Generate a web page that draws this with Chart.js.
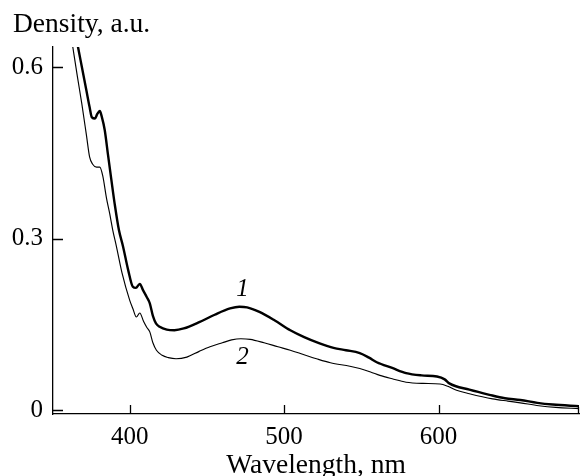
<!DOCTYPE html>
<html>
<head>
<meta charset="utf-8">
<title>Density spectrum</title>
<script src="https://cdn.jsdelivr.net/npm/chart.js"></script>
<style>
body { margin: 0; background: #fff; }
.wrap { width: 580px; height: 476px; position: relative; }
</style>
</head>
<body>
<div class="wrap"><canvas id="spectrum"></canvas></div>
<script>
// curve 1 (thick)
var wl1 = [358, 362, 366.5, 369, 372, 374, 375.5, 377.5, 379, 380.6,
    382, 383.8, 386, 388, 390.3, 393, 395.7, 399, 402, 404,
    406.5, 408.6, 411, 413, 415, 417, 419.4, 424, 429, 435,
    445, 455, 465, 471, 476, 484, 494, 504, 513, 523,
    532, 540, 549, 555, 560, 570, 579, 589, 599, 604,
    607, 620, 633, 643, 653, 664, 674, 691];
var dens1 = [0.755, 0.70, 0.635, 0.60, 0.558, 0.53, 0.512, 0.510, 0.518, 0.523,
    0.512, 0.490, 0.445, 0.405, 0.36, 0.315, 0.286, 0.245, 0.216, 0.214,
    0.221, 0.210, 0.198, 0.187, 0.165, 0.152, 0.146, 0.141, 0.140, 0.143,
    0.154, 0.167, 0.178, 0.181, 0.180, 0.172, 0.157, 0.140, 0.128, 0.117,
    0.109, 0.105, 0.100, 0.092, 0.084, 0.074, 0.065, 0.061, 0.059, 0.054,
    0.047, 0.036, 0.027, 0.021, 0.018, 0.013, 0.010, 0.007];

// curve 2 (thin)
var wl2 = [356, 360, 363.3, 366, 369, 372, 374, 376, 378.5, 380.6,
    382.5, 385, 387, 389, 391.4, 395, 400, 402, 404.3, 406.5,
    409, 411, 413, 415, 417.3, 421, 425, 430, 437, 445,
    452, 460, 466, 472, 478, 487, 496, 504, 512, 521,
    530, 542.6, 549, 556, 562, 570, 579, 590, 601, 606,
    611.7, 620, 635, 645, 653, 665, 676, 691];
var dens2 = [0.76, 0.69, 0.632, 0.585, 0.535, 0.48, 0.443, 0.430, 0.425, 0.425,
    0.41, 0.37, 0.344, 0.315, 0.286, 0.24, 0.192, 0.178, 0.163, 0.170,
    0.155, 0.145, 0.137, 0.118, 0.105, 0.096, 0.092, 0.090, 0.093, 0.103,
    0.111, 0.118, 0.123, 0.125, 0.124, 0.118, 0.111, 0.105, 0.098, 0.090,
    0.083, 0.077, 0.073, 0.067, 0.061, 0.055, 0.049, 0.047, 0.046, 0.042,
    0.035, 0.029, 0.020, 0.016, 0.013, 0.008, 0.005, 0.003];

var xTicks = [400, 500, 600];
var yTicks = [0, 0.3, 0.6];
var curveNames = ['1', '2'];
var nameX = [473, 473];
var nameY = [0.212, 0.093];

var serif = "'Liberation Serif', 'Times New Roman', serif";

function toPoints(xs, ys) {
    var pts = [];
    for (var i = 0; i < xs.length; i++) pts.push({ x: xs[i], y: ys[i] });
    return pts;
}

// inward tick marks, curve numbers and the y axis caption
var extras = {
    id: 'extras',
    afterDraw: function (chart) {
        var ctx = chart.ctx;
        var area = chart.chartArea;
        var xs = chart.scales.x, ys = chart.scales.y;
        ctx.save();
        ctx.strokeStyle = '#000';
        ctx.lineWidth = 1.3;
        ctx.beginPath();
        xTicks.forEach(function (v) {
            var px = Math.round(xs.getPixelForValue(v)) + 0.5;
            ctx.moveTo(px, area.bottom);
            ctx.lineTo(px, area.bottom - 9);
        });
        ctx.moveTo(area.right - 0.5, area.bottom);
        ctx.lineTo(area.right - 0.5, area.bottom - 7);
        yTicks.forEach(function (v) {
            var py = Math.round(ys.getPixelForValue(v)) + 0.5;
            ctx.moveTo(area.left, py);
            ctx.lineTo(area.left + 10, py);
        });
        ctx.stroke();

        ctx.fillStyle = '#000';
        ctx.textAlign = 'center';
        ctx.textBaseline = 'middle';
        ctx.font = 'italic 25px ' + serif;
        curveNames.forEach(function (t, i) {
            ctx.fillText(t, xs.getPixelForValue(nameX[i]), ys.getPixelForValue(nameY[i]));
        });

        ctx.textAlign = 'left';
        ctx.textBaseline = 'alphabetic';
        ctx.font = '27.5px ' + serif;
        ctx.fillText('Density, a.u.', 13, 32);
        ctx.restore();
    }
};

var ctx = document.getElementById('spectrum').getContext('2d');
var chart = new Chart(ctx, {
    type: 'line',
    data: {
        datasets: [{
            label: '1',
            data: toPoints(wl1, dens1),
            borderColor: '#000',
            borderWidth: 2.4,
            pointRadius: 0,
            cubicInterpolationMode: 'monotone',
            clip: 0
        }, {
            label: '2',
            data: toPoints(wl2, dens2),
            borderColor: '#000',
            borderWidth: 1.15,
            pointRadius: 0,
            cubicInterpolationMode: 'monotone',
            clip: 0
        }]
    },
    options: {
        responsive: true,
        maintainAspectRatio: false,
        animation: false,
        layout: { padding: { top: 47, right: 1, left: 0, bottom: 0 } },
        plugins: {
            legend: { display: false },
            tooltip: { enabled: false }
        },
        scales: {
            x: {
                type: 'linear',
                min: 350.3,
                max: 691,
                afterBuildTicks: function (scale) {
                    scale.ticks = xTicks.map(function (v) { return { value: v }; });
                },
                afterFit: function (scale) { scale.height = 62; },
                grid: { display: false, drawTicks: false },
                border: { display: true, color: '#000', width: 1.3 },
                ticks: {
                    color: '#000',
                    padding: 8.5,
                    maxRotation: 0,
                    font: { family: serif, size: 25 },
                    callback: function (v) { return String(v); }
                },
                title: {
                    display: true,
                    text: 'Wavelength, nm',
                    color: '#000',
                    font: { family: serif, size: 27.5, lineHeight: 1 },
                    padding: { top: 0, bottom: -3.3 }
                }
            },
            y: {
                min: -0.0065,
                max: 0.635,
                afterBuildTicks: function (scale) {
                    scale.ticks = yTicks.map(function (v) { return { value: v }; });
                },
                afterFit: function (scale) { scale.width = 53; },
                grid: { display: false, drawTicks: false },
                border: { display: true, color: '#000', width: 1.3 },
                ticks: {
                    color: '#000',
                    padding: 10,
                    font: { family: serif, size: 25 },
                    callback: function (v) { return String(v); }
                }
            }
        }
    },
    plugins: [extras]
});
</script>
</body>
</html>
